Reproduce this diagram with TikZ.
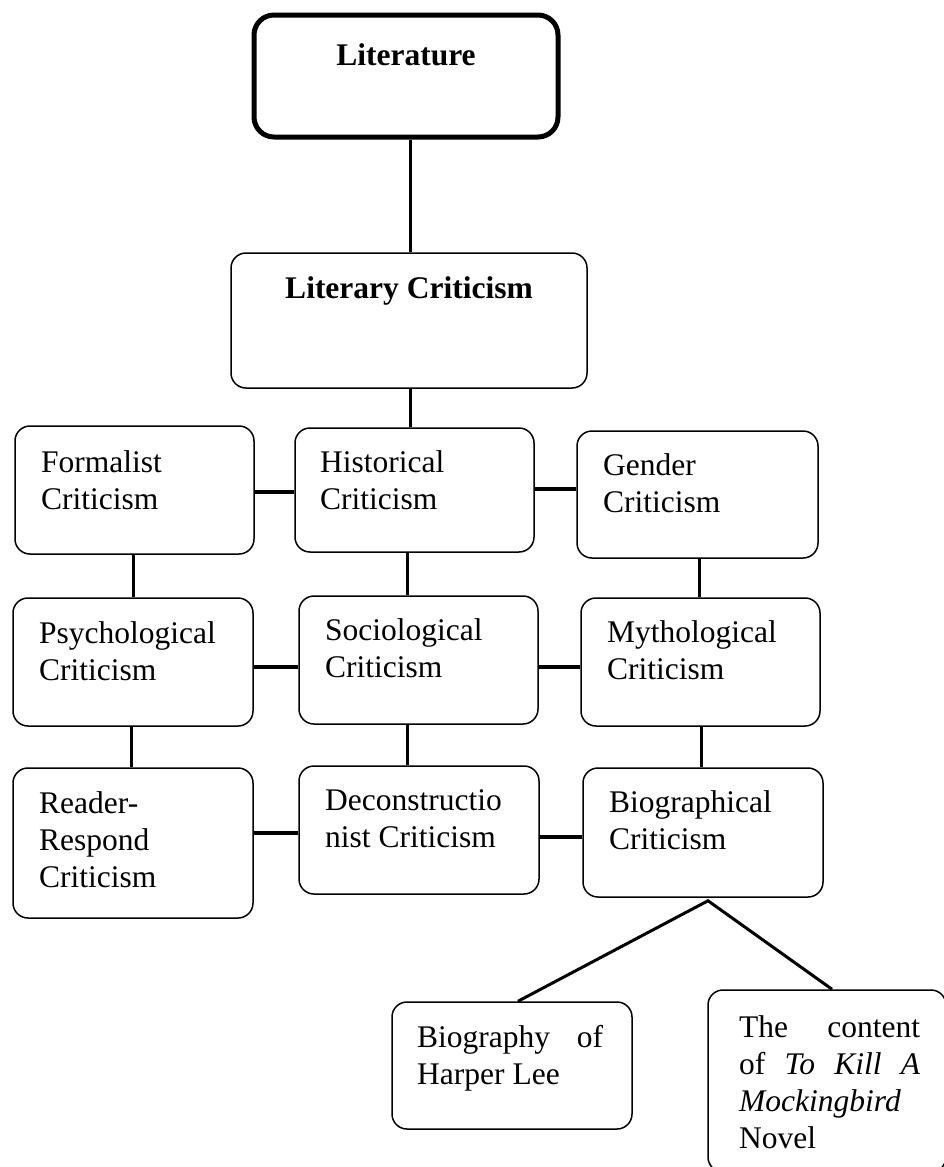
\documentclass[tikz,border=0pt]{standalone}
\usepackage{fontspec}
\setmainfont{Liberation Serif}
\usetikzlibrary{calc}
\newcommand{\ml}[1]{\begin{tabular}[t]{@{}l@{}}#1\end{tabular}}
\begin{document}
\begin{tikzpicture}[x=1pt,y=-1pt,
  box/.style={draw, rounded corners=15pt, line width=1.5pt, inner sep=0pt},
  topbox/.style={draw, rounded corners=20pt, line width=5pt, inner sep=0pt},
  lbl/.style={anchor=base west, inner sep=0pt, font=\fontsize{31.5}{37}\selectfont},
  clbl/.style={anchor=base, inner sep=0pt, font=\fontsize{31.5}{37}\selectfont\bfseries},
  vline/.style={line width=3pt},
  hline/.style={line width=4.5pt},
  forkline/.style={line width=3pt}]
\useasboundingbox (0,0) rectangle (943,1167);

% boxes
\node[topbox, minimum width=304pt, minimum height=122pt] (lit) at (406,76) {};
\node[box, minimum width=356pt, minimum height=135pt] (crit) at (409,320.5) {};
\node[box, minimum width=239pt, minimum height=128pt] (form) at (134.5,490) {};
\node[box, minimum width=239pt, minimum height=124pt] (hist) at (414.5,490) {};
\node[box, minimum width=241pt, minimum height=127pt] (gen) at (697.5,494.5) {};
\node[box, minimum width=240pt, minimum height=128pt] (psy) at (133,662) {};
\node[box, minimum width=239pt, minimum height=128pt] (soc) at (418.5,660) {};
\node[box, minimum width=239pt, minimum height=128pt] (myth) at (700.5,662) {};
\node[box, minimum width=240pt, minimum height=150pt] (read) at (133,843) {};
\node[box, minimum width=240pt, minimum height=128pt] (dec) at (419,830) {};
\node[box, minimum width=240pt, minimum height=129pt] (bio) at (703,832.5) {};
\node[box, minimum width=240pt, minimum height=127pt] (harp) at (512,1065.5) {};
\node[box, minimum width=238pt, minimum height=182pt] (cont) at (827,1081) {};

% labels
\node[clbl] (litT) at (406,65) {Literature};
\node[clbl] (critT) at (409,298) {Literary Criticism};
\node[lbl] (formT) at (41,472) {\ml{Formalist\\Criticism}};
\node[lbl] (histT) at (320,472) {\ml{Historical\\Criticism}};
\node[lbl] (genT) at (603,475) {\ml{Gender\\Criticism}};
\node[lbl] (psyT) at (39,643) {\ml{Psychological\\Criticism}};
\node[lbl] (socT) at (325,640) {\ml{Sociological\\Criticism}};
\node[lbl] (mythT) at (607,642) {\ml{Mythological\\Criticism}};
\node[lbl] (readT) at (39,813) {\ml{Reader-\\Respond\\Criticism}};
\node[lbl] (decT) at (325,810) {\ml{Deconstructio\\nist Criticism}};
\node[lbl] (bioT) at (609,812) {\ml{Biographical\\Criticism}};
\node[lbl] (harpT) at (417,1047) {\ml{\makebox[186pt][s]{Biography of}\\Harper Lee}};
\node[lbl] (contT) at (739,1037) {\ml{\makebox[181pt][s]{The content}\\\makebox[181pt][s]{of \textit{To Kill A}}\\\textit{Mockingbird}\\Novel}};

% vertical connectors
\draw[vline] ([xshift=4pt]lit.south) -- ([xshift=4pt]lit.south |- crit.north);
\draw[vline] ([xshift=1pt]crit.south) -- ([xshift=1pt]crit.south |- hist.north);
\draw[vline] ([xshift=-1.5pt]form.south) -- ([xshift=-1.5pt]form.south |- psy.north);
\draw[vline] ([xshift=-7.5pt]hist.south) -- ([xshift=-7.5pt]hist.south |- soc.north);
\draw[vline] ([xshift=1.5pt]gen.south) -- ([xshift=1.5pt]gen.south |- myth.north);
\draw[vline] ([xshift=-2pt]psy.south) -- ([xshift=-2pt]psy.south |- read.north);
\draw[vline] ([xshift=-11.5pt]soc.south) -- ([xshift=-11.5pt]soc.south |- dec.north);
\draw[vline] ([xshift=0.5pt]myth.south) -- ([xshift=0.5pt]myth.south |- bio.north);

% horizontal connectors
\path ([yshift=-2pt]form.east) coordinate (fh);
\draw[hline] (fh) -- (fh -| hist.west);
\path ([yshift=1pt]hist.east) coordinate (hg);
\draw[hline] (hg) -- (hg -| gen.west);
\path ([yshift=-5pt]psy.east) coordinate (ps);
\draw[hline] (ps) -- (ps -| soc.west);
\path ([yshift=-7pt]soc.east) coordinate (sm);
\draw[hline] (sm) -- (sm -| myth.west);
\path ([yshift=10pt]read.east) coordinate (rd);
\draw[hline] (rd) -- (rd -| dec.west);
\path ([yshift=-7pt]dec.east) coordinate (db);
\draw[hline] (db) -- (db -| bio.west);

% fork
\coordinate (fork) at ([shift={(5pt,-3pt)}]bio.south);
\draw[forkline, line join=miter] ([xshift=6pt]harp.north) -- (fork) -- ([xshift=5pt]cont.north);
\end{tikzpicture}
\end{document}
